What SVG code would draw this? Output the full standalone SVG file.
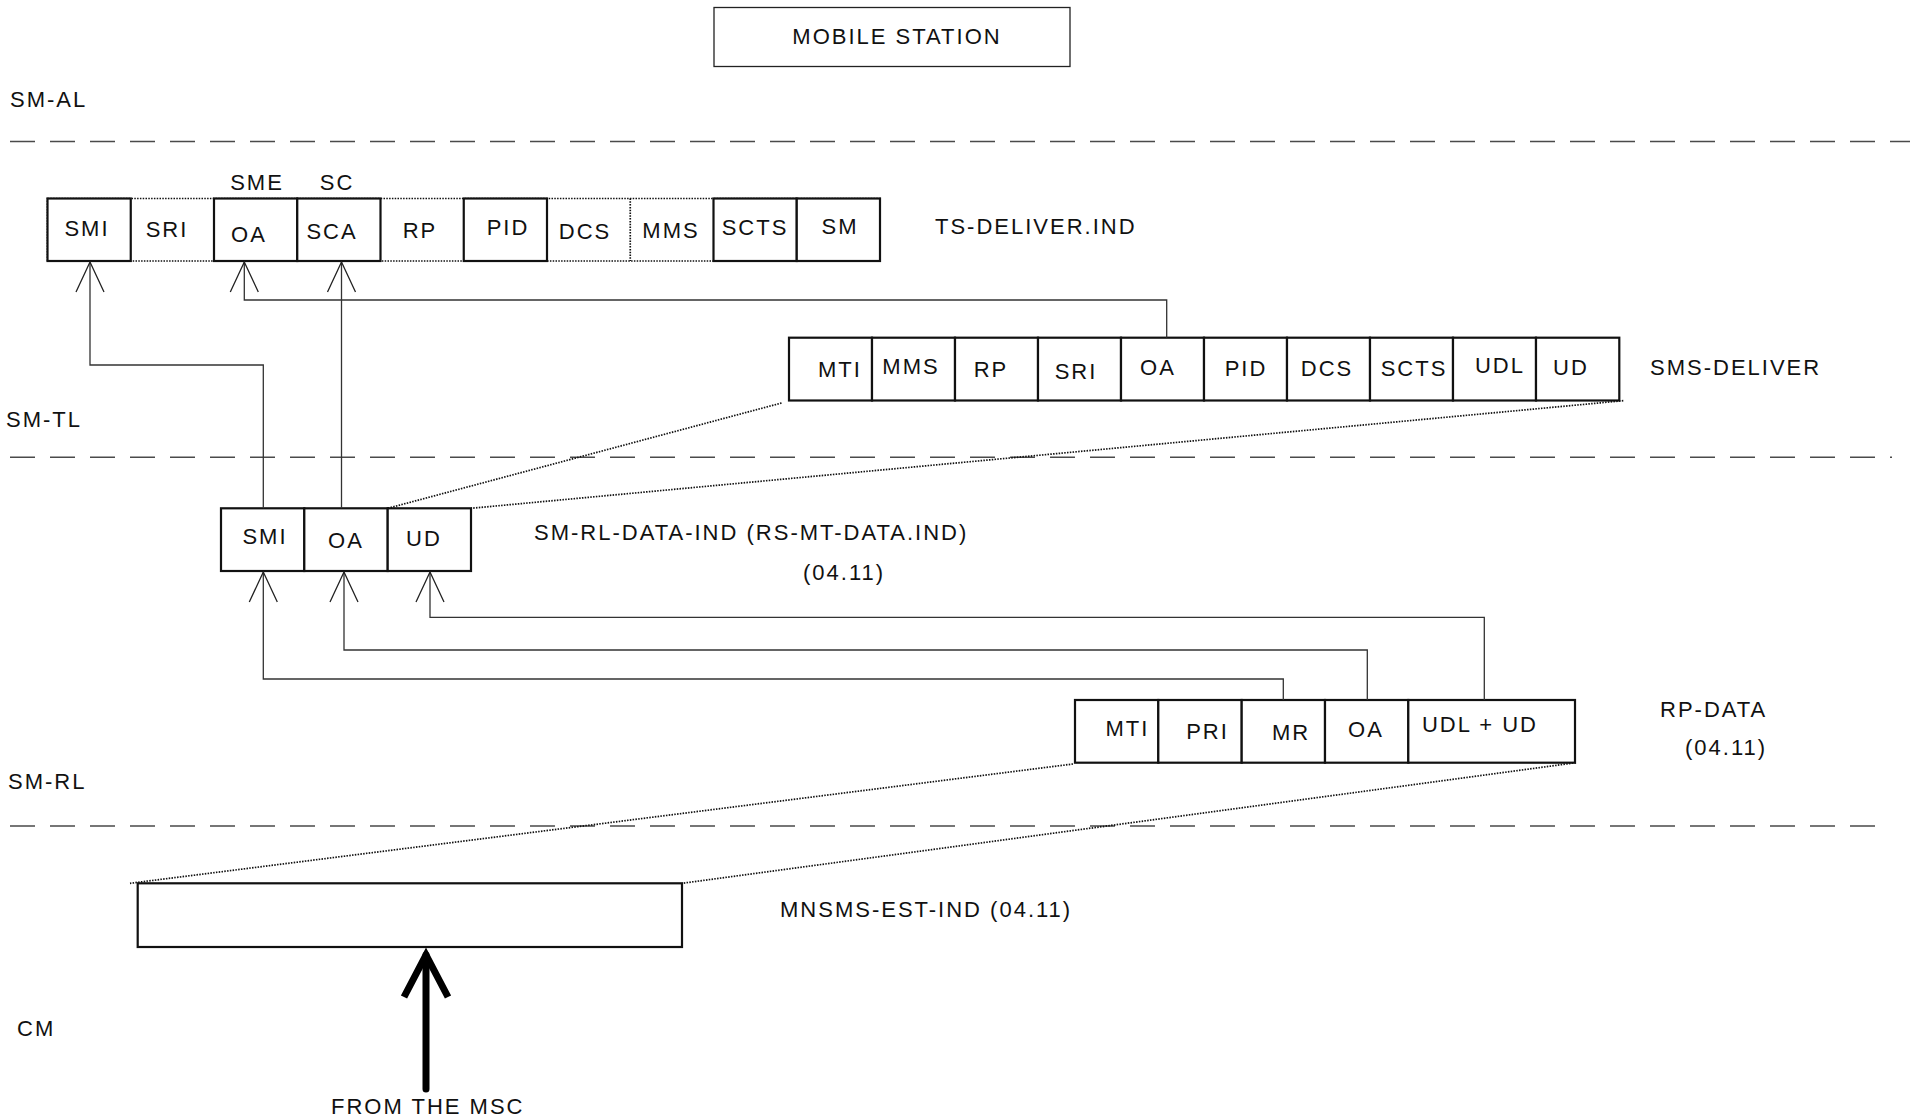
<svg xmlns="http://www.w3.org/2000/svg" width="1910" height="1120" viewBox="0 0 1910 1120">
<style>
text{font-family:"Liberation Sans",Arial,Helvetica,sans-serif;font-size:22px;letter-spacing:2px;fill:#111}
.c{text-anchor:middle}
.cell{fill:#fff;stroke:#111;stroke-width:2.2}
.dot{fill:none;stroke:#111;stroke-width:1.7;stroke-dasharray:1.5 1.3}
.dash{fill:none;stroke:#4a4a4a;stroke-width:1.6;stroke-dasharray:25 15}
.conn{fill:none;stroke:#333;stroke-width:1.3}
.ah{fill:none;stroke:#222;stroke-width:1.3}
</style>
<defs>
<marker id="open" markerUnits="userSpaceOnUse" viewBox="-32 -16 34 32" refX="0" refY="0" markerWidth="34" markerHeight="32" orient="auto">
<path class="ah" d="M-30,-14 L0,0 L-30,14"/>
</marker>
</defs>
<rect width="1910" height="1120" fill="#fff"/>

<g id="layer-separators">
<line class="dash" x1="10" y1="141.5" x2="1910" y2="141.5"/>
<line class="dash" x1="10" y1="457.3" x2="1892" y2="457.3"/>
<line class="dash" x1="10" y1="826" x2="1885" y2="826"/>
</g>

<g id="layer-labels">
<text x="10" y="107">SM-AL</text>
<text x="6" y="427">SM-TL</text>
<text x="8" y="789">SM-RL</text>
<text x="17" y="1036">CM</text>
</g>

<g id="mobile-station">
<rect x="714" y="7.5" width="356" height="59" fill="#fff" stroke="#222" stroke-width="1.3"/>
<text class="c" x="897" y="44">MOBILE STATION</text>
</g>

<g id="ts-deliver">
<rect class="dot" x="47.5" y="198.5" width="832.5" height="62.5"/>
<line class="dot" x1="630.25" y1="198.5" x2="630.25" y2="261"/>
<rect class="cell" x="47.5" y="198.5" width="83.25" height="62.5"/>
<rect class="cell" x="214" y="198.5" width="83.25" height="62.5"/>
<rect class="cell" x="297.25" y="198.5" width="83.25" height="62.5"/>
<rect class="cell" x="463.75" y="198.5" width="83.25" height="62.5"/>
<rect class="cell" x="713.5" y="198.5" width="83.25" height="62.5"/>
<rect class="cell" x="796.75" y="198.5" width="83.25" height="62.5"/>
<text class="c" x="87" y="236">SMI</text>
<text class="c" x="167" y="237">SRI</text>
<text class="c" x="249" y="242">OA</text>
<text class="c" x="332" y="239">SCA</text>
<text class="c" x="420" y="238">RP</text>
<text class="c" x="508" y="235">PID</text>
<text class="c" x="585" y="239">DCS</text>
<text class="c" x="671" y="238">MMS</text>
<text class="c" x="755" y="235">SCTS</text>
<text class="c" x="840" y="234">SM</text>
<text class="c" x="257" y="190">SME</text>
<text class="c" x="337" y="190">SC</text>
<text x="935" y="234">TS-DELIVER.IND</text>
</g>

<g id="sms-deliver">
<rect class="cell" x="789" y="337.7" width="83" height="62.8"/>
<rect class="cell" x="872" y="337.7" width="83" height="62.8"/>
<rect class="cell" x="955" y="337.7" width="83" height="62.8"/>
<rect class="cell" x="1038" y="337.7" width="83" height="62.8"/>
<rect class="cell" x="1121" y="337.7" width="83" height="62.8"/>
<rect class="cell" x="1204" y="337.7" width="83" height="62.8"/>
<rect class="cell" x="1287" y="337.7" width="83" height="62.8"/>
<rect class="cell" x="1370" y="337.7" width="83" height="62.8"/>
<rect class="cell" x="1453" y="337.7" width="83" height="62.8"/>
<rect class="cell" x="1536" y="337.7" width="83.3" height="62.8"/>
<text class="c" x="840" y="376.7">MTI</text>
<text class="c" x="911" y="374">MMS</text>
<text class="c" x="991" y="376.7">RP</text>
<text class="c" x="1076" y="379.3">SRI</text>
<text class="c" x="1158" y="375">OA</text>
<text class="c" x="1246" y="376">PID</text>
<text class="c" x="1327" y="376">DCS</text>
<text class="c" x="1414" y="376">SCTS</text>
<text class="c" x="1500" y="373.3">UDL</text>
<text class="c" x="1571" y="375.3">UD</text>
<text x="1650" y="375">SMS-DELIVER</text>
</g>

<g id="sm-rl-data-ind">
<rect class="cell" x="221" y="508.3" width="83.3" height="62.7"/>
<rect class="cell" x="304.3" y="508.3" width="83.4" height="62.7"/>
<rect class="cell" x="387.7" y="508.3" width="83.3" height="62.7"/>
<text class="c" x="265" y="544.3">SMI</text>
<text class="c" x="346" y="547.7">OA</text>
<text class="c" x="424" y="546">UD</text>
<text x="534" y="540">SM-RL-DATA-IND (RS-MT-DATA.IND)</text>
<text x="803" y="580">(04.11)</text>
</g>

<g id="rp-data">
<rect class="cell" x="1075" y="700" width="83.3" height="62.7"/>
<rect class="cell" x="1158.3" y="700" width="83.4" height="62.7"/>
<rect class="cell" x="1241.7" y="700" width="83.3" height="62.7"/>
<rect class="cell" x="1325" y="700" width="83.3" height="62.7"/>
<rect class="cell" x="1408.3" y="700" width="166.7" height="62.7"/>
<text class="c" x="1127.5" y="736">MTI</text>
<text class="c" x="1207.5" y="739.3">PRI</text>
<text class="c" x="1291" y="740">MR</text>
<text class="c" x="1366" y="737.3">OA</text>
<text class="c" x="1480" y="731.7">UDL + UD</text>
<text x="1660" y="717">RP-DATA</text>
<text x="1685" y="755">(04.11)</text>
</g>

<g id="mnsms-est-ind">
<rect class="cell" x="137.7" y="883.3" width="544.3" height="63.7"/>
<text x="780" y="917">MNSMS-EST-IND (04.11)</text>
</g>

<g id="from-msc">
<text x="331" y="1114">FROM THE MSC</text>
</g>

<g id="connectors">
<path class="conn" d="M263.3,508.3 V365 H90 V262" marker-end="url(#open)"/>
<path class="conn" d="M1166.7,337.7 V300 H244.3 V262" marker-end="url(#open)"/>
<path class="conn" d="M341.5,508.3 V262" marker-end="url(#open)"/>
<path class="conn" d="M1283.3,700 V679 H263.3 V572" marker-end="url(#open)"/>
<path class="conn" d="M1367.3,700 V650 H344 V572" marker-end="url(#open)"/>
<path class="conn" d="M1484.3,700 V617.3 H430 V572" marker-end="url(#open)"/>
<line class="dot" x1="781.5" y1="403" x2="387.7" y2="508.3"/>
<line class="dot" x1="1623.3" y1="400.7" x2="471" y2="508.3"/>
<line class="dot" x1="1073" y1="764" x2="130" y2="883.3"/>
<line class="dot" x1="1576" y1="762.7" x2="682" y2="883.3"/>
<line x1="426" y1="1089" x2="426" y2="955" stroke="#000" stroke-width="7" stroke-linecap="round"/>
<polyline points="404,997 426,955 448,997" fill="none" stroke="#000" stroke-width="7" stroke-linejoin="miter"/>
</g>
</svg>
